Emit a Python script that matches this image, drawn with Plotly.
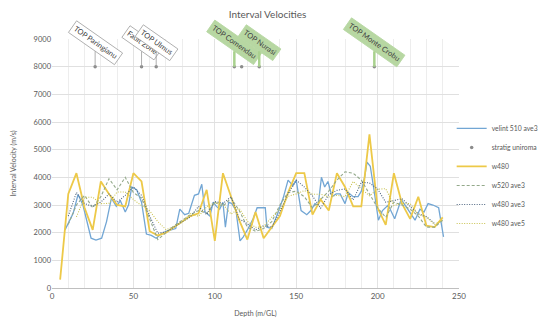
import plotly.graph_objects as go

# ---------------- data ----------------
velint_depth = [8, 13, 16, 19, 24, 27, 30.5, 33.5, 36.5, 39.5, 42, 45, 47, 49, 52, 55, 58, 61, 64, 67, 70, 73, 76,
                78.5, 81.5, 84, 87.5, 90, 92, 94, 97, 99, 101, 103, 105, 106.5, 108.5, 110.5, 113, 115.5, 117.5,
                120.5, 123.5, 126, 128.5, 131, 132, 135, 138, 142, 145, 148, 150, 153, 156.5, 159, 161.5, 163.5,
                165.5, 167.5, 169.5, 172, 174.5, 177, 180, 182, 185, 188, 190, 192, 193.5, 195.5, 197.5, 200.5,
                203, 206.5, 210.5, 214.5, 218, 223, 226, 228.5, 231, 234, 237.5, 240.5]
velint_510_ave3 = [2100, 2700, 3380, 3000, 1800, 1730, 1800, 2400, 3250, 2950, 3150, 2750, 3000, 3650, 3550, 3100,
                   1950, 1900, 1800, 1950, 2050, 2100, 2150, 2850, 2650, 2700, 3350, 3400, 3750, 2750, 2600, 3100,
                   2950, 2850, 3100, 2200, 3100, 3050, 2800, 1700, 1850, 2150, 2500, 2900, 2900, 2900, 2200, 2150,
                   2600, 3250, 3900, 3700, 3900, 2800, 2650, 2800, 3050, 3000, 4000, 3650, 3850, 3300, 3400, 3400,
                   3050, 3450, 3300, 3300, 3500, 4000, 4550, 4400, 3650, 2450, 2800, 3000, 2500, 3200, 2900, 2450,
                   2850, 2750, 3050, 3000, 2900, 1850]

stratig_depth = [26.5, 55, 64, 112, 116.5, 127.3, 198]
stratig_value = [8000, 8000, 8000, 8000, 8000, 8000, 8000]
stratig_label = ["TOP Paringianu", "Fault Zone", "TOP Ulmus", "TOP Comendau", "", "TOP Nurasi", "TOP Monte Crobu"]
stratig_green = [False, False, False, True, True, True, True]

w480_depth = [5, 10, 15, 20, 25, 30, 35, 40, 45, 50, 55, 60, 65, 70, 75, 80, 85, 90, 95, 100, 105, 110, 115, 120,
              125, 130, 135, 140, 145, 150, 155, 160, 165, 170, 175, 180, 185, 190, 195, 200, 205, 210, 215, 220,
              225, 230, 235, 240]
w480 = [300, 3400, 4150, 2900, 2100, 3850, 3400, 3000, 2950, 4150, 3850, 2050, 1900, 2000, 2200, 2400, 2600, 2700,
        3550, 1700, 4150, 3300, 2450, 1750, 2750, 1800, 2200, 2600, 3450, 4150, 4150, 2650, 3200, 2800, 4150, 3650,
        2950, 2950, 5550, 2900, 2280, 4150, 3050, 2500, 3300, 2250, 2200, 2550]

w520_ave3_depth = [10, 15, 20, 25, 30, 35, 40, 45, 50, 55, 60, 65, 70, 75, 80, 85, 90, 95, 100, 105, 110, 115, 120,
                   125, 130, 135, 140, 145, 150, 155, 160, 165, 170, 175, 180, 185, 190, 195, 200, 205, 210, 215,
                   220, 225, 230, 235, 240]
w520_ave3 = [2300, 3000, 3350, 2900, 3300, 3950, 3550, 4000, 3450, 3250, 2500, 1750, 2000, 2250, 2450, 2650, 2800,
             2700, 3100, 2950, 3250, 2800, 2200, 2050, 2150, 2400, 3000, 3450, 3500, 3300, 2900, 3200, 3500, 3900,
             4200, 4150, 3900, 3400, 2900, 2550, 3100, 3000, 2850, 2600, 2200, 2200, 2450]

w480_ave3_depth = [10, 15, 20, 25, 30, 35, 40, 45, 50, 55, 60, 65, 70, 75, 80, 85, 90, 95, 100, 105, 110, 115, 120,
                   125, 130, 135, 140, 145, 150, 155, 160, 165, 170, 175, 180, 185, 190, 195, 200, 205, 210, 215,
                   220, 225, 230, 235]
w480_ave3 = [2600, 3450, 3050, 2950, 3100, 3400, 3100, 3350, 3650, 3350, 2600, 1980, 2030, 2200, 2400, 2570, 2950,
             2650, 3130, 3050, 3300, 2500, 2320, 2100, 2250, 2200, 2750, 3400, 3900, 3650, 3330, 2880, 3380, 3530,
             3580, 3180, 3820, 3800, 3580, 3100, 3160, 3230, 2950, 2680, 2580, 2330]

w480_ave5_depth = [15, 20, 25, 30, 35, 40, 45, 50, 55, 60, 65, 70, 75, 80, 85, 90, 95, 100, 105, 110, 115, 120, 125,
                   130, 135, 140, 145, 150, 155, 160, 165, 170, 175, 180, 185, 190, 195, 200, 205, 210, 215, 220,
                   225, 230, 235, 240]
w480_ave5 = [2570, 3280, 3280, 3050, 3060, 3470, 3470, 3200, 2980, 2790, 2400, 2110, 2220, 2380, 2690, 2590, 2940,
             3080, 3030, 2670, 2880, 2410, 2190, 2220, 2560, 2840, 3310, 3400, 3520, 3390, 3390, 3290, 3350, 3300,
             3850, 3600, 3330, 3570, 3590, 2980, 3060, 3050, 2660, 2560, 2300, 2450]

x_ticks = [0, 50, 100, 150, 200, 250]
y_ticks = [0, 1000, 2000, 3000, 4000, 5000, 6000, 7000, 8000, 9000]

# ---------------- styles ----------------
C_BLUE = "#72A6D4"
C_YEL = "#EDC948"
C_DASH = "#93A98A"
C_DARK = "#4F6680"
C_OLIVE = "#C9C250"
FONT = "Lato"

fig = go.Figure()
fig.add_trace(go.Scatter(x=velint_depth, y=velint_510_ave3, mode="lines", name="velint 510 ave3",
                         line=dict(color=C_BLUE, width=1.3)))
fig.add_trace(go.Scatter(x=stratig_depth, y=stratig_value, mode="markers", name="stratig uniroma",
                         marker=dict(color="#8C8C8C", size=3.5)))
fig.add_trace(go.Scatter(x=w480_depth, y=w480, mode="lines", name="w480",
                         line=dict(color=C_YEL, width=1.8)))
fig.add_trace(go.Scatter(x=w520_ave3_depth, y=w520_ave3, mode="lines", name="w520 ave3",
                         line=dict(color=C_DASH, width=1.1, dash="3px,2px")))
fig.add_trace(go.Scatter(x=w480_ave3_depth, y=w480_ave3, mode="lines", name="w480 ave3",
                         line=dict(color=C_DARK, width=1.1, dash="1px,1.5px")))
fig.add_trace(go.Scatter(x=w480_ave5_depth, y=w480_ave5, mode="lines", name="w480 ave5",
                         line=dict(color=C_OLIVE, width=1.1, dash="1px,1.5px")))

for d, v, lab, g in zip(stratig_depth, stratig_value, stratig_label, stratig_green):
    if not lab:
        continue
    fig.add_annotation(
        x=d, y=v, xref="x", yref="y", text=lab, textangle=35,
        showarrow=True, arrowhead=0, ax=0, ay=-24, axref="pixel", ayref="pixel",
        arrowcolor="#A9D18E" if g else "#9A9A9A", arrowwidth=2.5 if g else 0.8,
        bgcolor="#B7D7A2" if g else "#FFFFFF",
        bordercolor="#B7D7A2" if g else "#A6A6A6", borderwidth=0.8, borderpad=2,
        font=dict(family=FONT, size=7.5, color="#404040"),
    )

fig.update_layout(
    width=550, height=323,
    margin=dict(l=44, r=99, t=31, b=43, autoexpand=False),
    paper_bgcolor="white", plot_bgcolor="white",
    font=dict(family=FONT, size=8, color="#595959"),
    title=dict(text="Interval Velocities", x=0.472, xref="container", y=0.99, yanchor="top",
               font=dict(family=FONT, size=10, color="#595959")),
    legend=dict(x=0.982, xanchor="left", y=0.45, yanchor="middle",
                font=dict(family=FONT, size=6.8, color="#595959"),
                bgcolor="rgba(0,0,0,0)", itemwidth=30, tracegroupgap=0),
    showlegend=True,
)
fig.update_xaxes(range=[0, 250], tickvals=x_ticks, showgrid=True, gridcolor="#E3E3E3", gridwidth=1,
                 minor=dict(dtick=10, showgrid=True, gridcolor="#EDEDED", gridwidth=1),
                 showline=True, linecolor="#BFBFBF", linewidth=1, zeroline=False, ticks="",
                 tickfont=dict(size=8, color="#595959"),
                 title=dict(text="Depth (m/GL)", font=dict(size=7, color="#595959"), standoff=11))
fig.update_yaxes(range=[0, 9000], tickvals=y_ticks, showgrid=True, gridcolor="#E0E0E0", gridwidth=1,
                 zeroline=False, showline=False, ticks="",
                 tickfont=dict(size=7.5, color="#595959"),
                 title=dict(text="Interval Velocity (m/s)", font=dict(size=7, color="#595959"), standoff=16))

fig.write_html("out.html")
